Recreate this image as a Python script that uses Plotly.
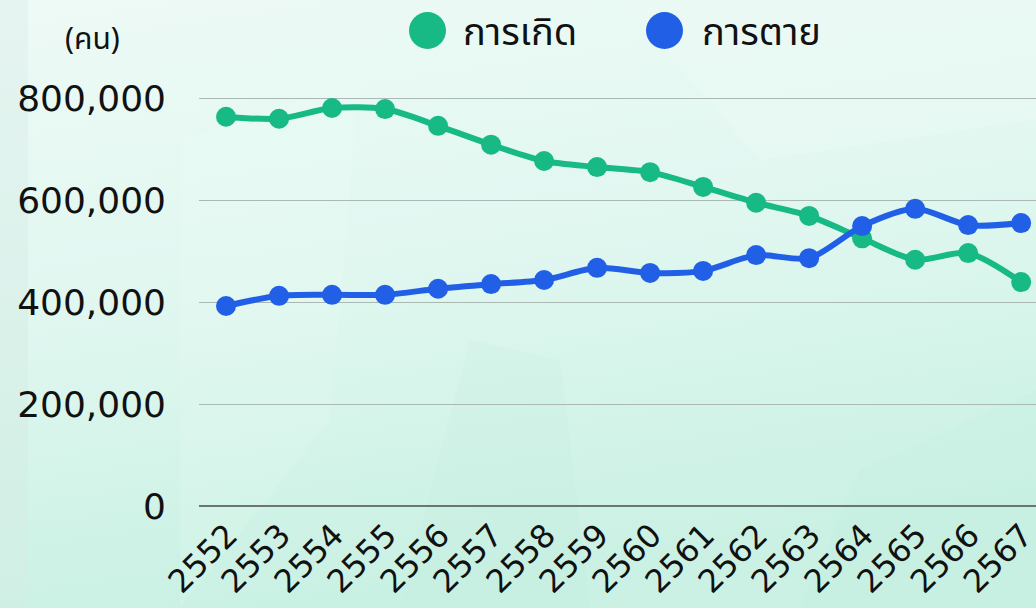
import base64
import plotly.graph_objects as go

years = [2552, 2553, 2554, 2555, 2556, 2557, 2558, 2559, 2560, 2561, 2562, 2563, 2564, 2565, 2566, 2567]
births = [765000, 761000, 782000, 780000, 747000, 710000, 678000, 666000, 656000, 627000, 596000, 570000, 526000, 484000, 497000, 440000]
deaths = [393000, 413000, 415000, 415000, 427000, 436000, 444000, 468000, 458000, 462000, 493000, 487000, 550000, 584000, 552000, 556000]
y_ticks = [0, 200000, 400000, 600000, 800000]
y_labels = ["0", "200,000", "400,000", "600,000", "800,000"]
series_names = ["การเกิด", "การตาย"]
unit_label = "(คน)"

GREEN = "#17b985"
BLUE = "#2160e6"
THAI = "'Noto Sans Thai', 'Noto Sans Thai Looped', Loma, 'Noto Sans', sans-serif"
NUM = "'DejaVu Sans', sans-serif"

W, H = 1036, 608
ML, MR, MT, MB = 199, 0, 48, 102
PW, PH = W - ML - MR, H - MT - MB

svg = """<svg xmlns='http://www.w3.org/2000/svg' width='1036' height='608' viewBox='0 0 1036 608' preserveAspectRatio='none'>
<defs>
<linearGradient id='g' x1='0' y1='0' x2='0.25' y2='1'>
<stop offset='0' stop-color='#eefaf6'/>
<stop offset='0.5' stop-color='#e0f7f0'/>
<stop offset='1' stop-color='#c9f1e3'/>
</linearGradient>
<linearGradient id='l' x1='0' y1='0' x2='0' y2='1'>
<stop offset='0' stop-color='#e6f4f1'/>
<stop offset='1' stop-color='#d0efe4'/>
</linearGradient>
</defs>
<rect width='1036' height='608' fill='url(#g)'/>
<rect width='28' height='608' fill='url(#l)'/>
<polygon points='470,340 560,360 590,608 400,608' fill='#bfe9da' opacity='0.14'/>
<polygon points='560,360 900,370 1036,430 1036,608 590,608' fill='#d8f7ec' opacity='0.2'/>
<polygon points='180,140 360,80 330,420 180,608' fill='#f4fdfa' opacity='0.15'/>
<polygon points='860,470 1036,390 1036,608 800,608' fill='#bfeedd' opacity='0.2'/>
<polygon points='620,0 1036,0 1036,120 760,160' fill='#f3fcf9' opacity='0.25'/>
</svg>"""
bg_uri = "data:image/svg+xml;base64," + base64.b64encode(svg.encode()).decode()


def px(xp):
    return (xp - ML) / PW


def py(yp):
    return 1 - (yp - MT) / PH


fig = go.Figure()
for name, vals, col in [(series_names[0], births, GREEN), (series_names[1], deaths, BLUE)]:
    fig.add_trace(go.Scatter(
        x=years, y=vals, name=name, mode="lines+markers",
        line=dict(color=col, width=6, shape="spline", smoothing=0.8),
        marker=dict(color=col, size=20),
        showlegend=False, cliponaxis=False,
    ))

fig.update_layout(
    width=W, height=H,
    margin=dict(l=ML, r=MR, t=MT, b=MB, autoexpand=False),
    paper_bgcolor="#e6f7f1",
    plot_bgcolor="rgba(0,0,0,0)",
    images=[dict(source=bg_uri, xref="paper", yref="paper", x=px(0), y=py(0),
                 sizex=W / PW, sizey=H / PH,
                 xanchor="left", yanchor="top", layer="below", sizing="stretch")],
    xaxis=dict(
        range=[2551.49, 2567.28], tickvals=years, ticktext=[str(y) for y in years],
        tickangle=-45, showgrid=False, zeroline=False, showline=False, automargin=False,
        ticklabeloverflow="allow", ticklabelshift=2,
        tickfont=dict(family=NUM, size=32, color="#111111"), ticklabelstandoff=3,
    ),
    yaxis=dict(
        range=[0, 900000], tickvals=y_ticks, ticktext=y_labels, automargin=False,
        showgrid=True, gridcolor="#aab9b4", gridwidth=1,
        zeroline=True, zerolinecolor="#6b7672", zerolinewidth=1.5, showline=False,
        tickfont=dict(family=NUM, size=36, color="#111111"), ticklabelstandoff=32,
    ),
    annotations=[
        dict(text=unit_label, xref="paper", yref="paper", x=px(92), y=py(40),
             xanchor="center", yanchor="middle", showarrow=False,
             font=dict(family=THAI, size=30, color="#111111")),
        dict(text=series_names[0], xref="paper", yref="paper", x=px(461), y=py(33),
             xanchor="left", yanchor="middle", showarrow=False,
             font=dict(family=THAI, size=38, color="#111111")),
        dict(text=series_names[1], xref="paper", yref="paper", x=px(700), y=py(33),
             xanchor="left", yanchor="middle", showarrow=False,
             font=dict(family=THAI, size=38, color="#111111")),
    ],
    shapes=[
        dict(type="circle", xref="paper", yref="paper", x0=px(409), x1=px(446),
             y0=py(49), y1=py(12), fillcolor=GREEN, line=dict(width=0)),
        dict(type="circle", xref="paper", yref="paper", x0=px(646), x1=px(683),
             y0=py(49), y1=py(12), fillcolor=BLUE, line=dict(width=0)),
    ],
)

fig.write_html("out.html", config={"displayModeBar": False},
               post_script="document.body.style.margin='0';document.body.style.overflow='hidden';")
